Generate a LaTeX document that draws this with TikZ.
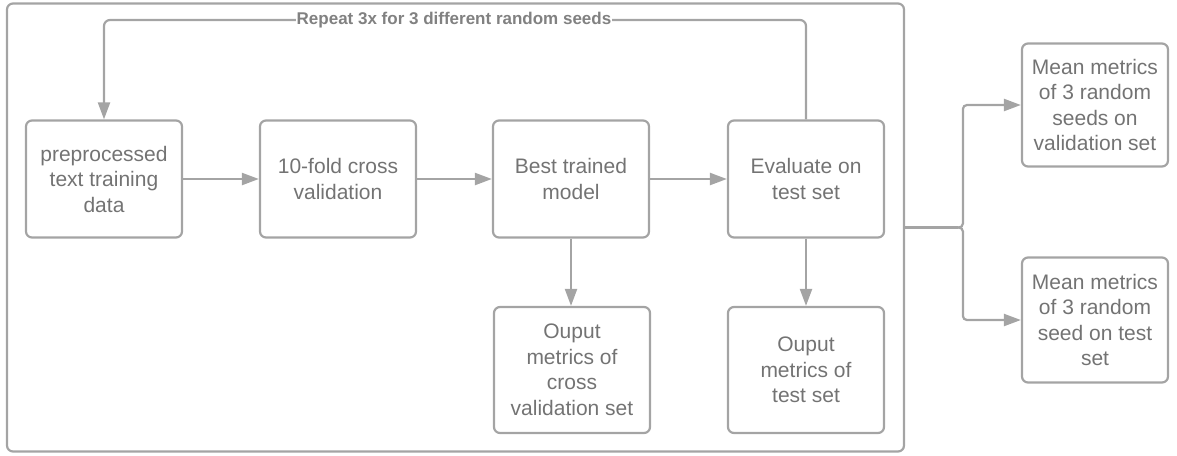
\documentclass[tikz,border=0pt]{standalone}
\usepackage{fontspec}
\setmainfont{Liberation Sans}
\usetikzlibrary{arrows.meta, positioning}

\definecolor{linegray}{HTML}{A4A4A4}
\definecolor{textgray}{HTML}{737373}
\tikzset{
  stepbox/.style={draw=linegray, line width=2.2pt, rounded corners=6pt, align=center,
    text=textgray, inner sep=0pt, font=\fontsize{21}{25.5}\selectfont,
    minimum width=156pt, minimum height=117pt},
  flow/.style={draw=linegray, line width=2.2pt, -{Triangle[length=17pt, width=12pt]}},
  plain/.style={draw=linegray, line width=2.2pt}
}

\begin{document}
\begin{tikzpicture}[x=1pt, y=-1pt]
    \useasboundingbox (0,0) rectangle (1177,455);
    \node[draw=linegray, line width=2.2pt, rounded corners=6pt, minimum width=897pt, minimum height=448pt] (loopframe) at (455.5,227.5) {};
    % top row
    \node[stepbox] (prep) at (104,179) {preprocessed\\text training\\data};
    \node[stepbox] (cv) at (338,179) {10-fold cross\\validation};
    \node[stepbox] (best) at (571,179) {Best trained\\model};
    \node[stepbox] (eval) at (806,179) {Evaluate on\\test set};
    % outputs
    \node[stepbox, minimum height=126pt] (cvout) at (572,370) {Ouput\\metrics of\\cross\\validation set};
    \node[stepbox, minimum height=126pt] (testout) at (806,370) {Ouput\\metrics of\\test set};
    \node[stepbox, minimum width=146pt, minimum height=123pt] (meanval) at (1095,105) {Mean metrics\\of 3 random\\seeds on\\validation set};
    \node[stepbox, minimum width=146pt, minimum height=125pt] (meantest) at (1095,320) {Mean metrics\\of 3 random\\seed on test\\set};
    \draw[flow] (prep) -- (cv);
    \draw[flow] (cv) -- (best);
    \draw[flow] (best) -- (eval);
    \draw[flow] (best.south) -- (best.south |- cvout.north);
    \draw[flow] (eval.south) -- (testout.north);
    % repeat loop
    \draw[flow, rounded corners=6pt] (eval.north) |- (prep.north |- 0,20) -- (prep.north);
    \node[fill=white, text=textgray!90, font=\fontsize{17}{20}\selectfont\bfseries, inner xsep=1pt, inner ysep=2pt] (repeatlbl) at (454,20) {Repeat 3x for 3 different random seeds};
    % split to the means
    \coordinate (split) at (958,227.5);
    \draw[plain] (loopframe.east) -- (split);
    \draw[flow, rounded corners=4pt] (split) -| ([xshift=-58pt]meanval.west) -- (meanval.west);
    \draw[flow, rounded corners=4pt] (split) -| ([xshift=-58pt]meantest.west) -- (meantest.west);
\end{tikzpicture}
\end{document}
